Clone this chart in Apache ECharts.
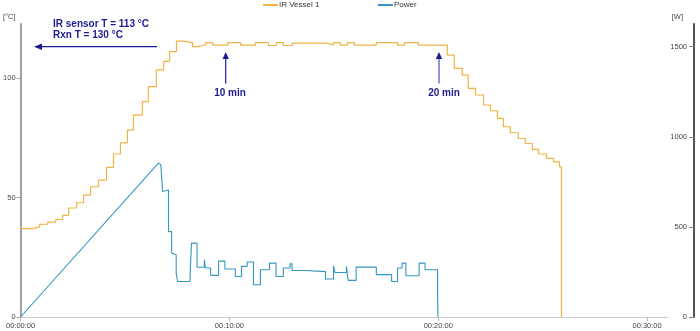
<!DOCTYPE html>
<html>
<head>
<meta charset="utf-8">
<script src="https://cdn.jsdelivr.net/npm/echarts@6/dist/echarts.min.js"></script>
<style>
html,body{margin:0;padding:0;background:#fff;}
#c{width:700px;height:331px;}
</style>
</head>
<body>
<div id="c"></div>
<script>
// time in seconds, temperature in °C (value held until next change)
const tempSteps = [
  [0,37],[34,37.7],[55,38.8],[78,39.7],[101,40.8],[121,42.5],[138,45.6],[161,47.8],
  [181,51],[201,54.5],[224,57.3],[247,62.6],[267,68.2],[287,72.9],[307,78.2],[324,84.5],
  [350,90.1],[367,96.4],[390,103.4],[411,107],[428,111],[448,115.4],[468,114.8],[494,113.1],
  [508,113.8],[531,114.8],[552,113.8],[595,114.8],[632,113.8],[675,114.8],[712,113.6],
  [735,114.8],[755,113.6],[781,114.6],[879,113.8],[899,114.8],[919,113.8],[939,114.8],
  [959,113.8],[1022,114.8],[1083,113.8],[1103,114.8],[1143,113.8],[1226,109.6],[1246,104],
  [1269,101.3],[1286,95.7],[1307,92.9],[1330,88.7],[1350,86.3],[1370,83.1],[1387,79.6],
  [1407,77.1],[1430,74.7],[1450,72.6],[1470,70.1],[1488,68.2],[1511,66.4],[1531,64.9],
  [1548,62.8],[1554,0]
];
// power ramp (linear) then step changes [s, W]
const powerRamp = [[0,0],[396,854],[403,845],[408,696]];
const powerSteps = [
  [411,705],[425,474],[434,355],[439,345],[447,244],[451,197],[487,235],[491,410],
  [507,276],[528,318],[531,272],[546,231],[569,310],[587,266],[617,225],[635,281],
  [651,305],[669,179],[689,262],[715,299],[734,225],[755,272],[774,295],[780,258],
  [819,252],[876,211],[899,284],[903,247],[936,281],[941,203],[964,277],[1022,235],
  [1066,197],[1083,272],[1096,299],[1107,229],[1145,299],[1162,262],[1198,133],[1199,0]
];
const xTicks = [0,600,1200,1800];
const tempTicks = [0,50,100];
const powerTicks = [0,500,1000,1500];
const seriesNames = ['IR Vessel 1','Power'];

const powerData = powerRamp.slice();
let prev = powerRamp[powerRamp.length-1][1];
powerSteps.forEach(p => { powerData.push([p[0], prev]); powerData.push([p[0], p[1]]); prev = p[1]; });

function hms(v){
  const h = Math.floor(v/3600), m = Math.floor((v%3600)/60), s = Math.round(v%60);
  const p = n => String(n).padStart(2,'0');
  return p(h)+':'+p(m)+':'+p(s);
}

const FONT = 'Liberation Sans, Arial, sans-serif';
const NAVY = '#1c1c8f';
const AX = 7.5;
const legendBase = {
  top:1, padding:0, itemWidth:15, itemHeight:2, icon:'rect',
  textStyle:{fontSize:8, color:'#333', padding:[0,0,0,-4]}
};
const chart = echarts.init(document.getElementById('c'), null, {renderer:'canvas'});
chart.setOption({
  animation:false,
  textStyle:{fontFamily:FONT},
  legend:[
    Object.assign({}, legendBase, {left:263, data:[seriesNames[0]]}),
    Object.assign({}, legendBase, {left:378, data:[seriesNames[1]]})
  ],
  grid:{left:20, right:32, top:24, bottom:14},
  xAxis:{
    type:'value', min:0, max:1860, interval:600,
    axisLine:{show:true, lineStyle:{color:'#cccccc', width:1}},
    axisTick:{show:true, length:4, lineStyle:{color:'#bbbbbb'}, customValues:xTicks},
    axisLabel:{customValues:xTicks, formatter:hms, fontSize:AX, color:'#444', margin:5},
    splitLine:{show:false}
  },
  yAxis:[
    {
      type:'value', min:0, max:122.6, position:'left',
      name:'[°C]', nameLocation:'end', nameGap:3,
      nameTextStyle:{fontSize:AX, color:'#444', align:'right', verticalAlign:'bottom', padding:[0,5,0,0]},
      axisLine:{show:true, lineStyle:{color:'#a0a0a0', width:2}},
      axisTick:{show:true, length:4, lineStyle:{color:'#a0a0a0'}, customValues:tempTicks},
      axisLabel:{customValues:tempTicks, fontSize:AX, color:'#444', margin:5},
      splitLine:{show:false}
    },
    {
      type:'value', min:0, max:1626, position:'right', offset:26,
      name:'[W]', nameLocation:'end', nameGap:3,
      nameTextStyle:{fontSize:AX, color:'#444', align:'right', verticalAlign:'bottom', padding:[0,11,0,0]},
      axisLine:{show:true, lineStyle:{color:'#555', width:2}},
      axisTick:{show:true, inside:true, length:5, lineStyle:{color:'#888'}, customValues:powerTicks},
      axisLabel:{inside:true, customValues:powerTicks, formatter:v => String(v), fontSize:AX, color:'#444', margin:7},
      splitLine:{show:false}
    }
  ],
  series:[
    {
      name:seriesNames[0], type:'line', yAxisIndex:0, step:'end', data:tempSteps,
      showSymbol:false, symbol:'none', color:'#f0b445', lineStyle:{width:1.2, color:'#f0b445'}
    },
    {
      name:seriesNames[1], type:'line', yAxisIndex:1, data:powerData,
      showSymbol:false, symbol:'none', color:'#3596bf', lineStyle:{width:1.1, color:'#3596bf'}
    }
  ],
  graphic:[
    {type:'text', x:53, y:24, style:{text:'IR sensor T = 113 °C', font:'bold 10px '+FONT, fill:NAVY, verticalAlign:'middle'}},
    {type:'text', x:53, y:35.5, style:{text:'Rxn T = 130 °C', font:'bold 10px '+FONT, fill:NAVY, verticalAlign:'middle'}},
    {type:'line', shape:{x1:41, y1:46.7, x2:157, y2:46.7}, style:{stroke:NAVY, lineWidth:1.2}},
    {type:'polygon', shape:{points:[[34,46.7],[42,43.5],[42,49.9]]}, style:{fill:NAVY}},
    {type:'line', shape:{x1:225.7, y1:58, x2:225.7, y2:83.5}, style:{stroke:NAVY, lineWidth:1.2}},
    {type:'polygon', shape:{points:[[225.7,52],[222.5,59],[228.9,59]]}, style:{fill:NAVY}},
    {type:'text', x:230, y:93.5, style:{text:'10 min', font:'bold 10px '+FONT, fill:NAVY, align:'center', verticalAlign:'middle'}},
    {type:'line', shape:{x1:439, y1:58, x2:439, y2:83.5}, style:{stroke:'#4a4ac0', lineWidth:1.2}},
    {type:'polygon', shape:{points:[[439,52],[435.8,59],[442.2,59]]}, style:{fill:NAVY}},
    {type:'text', x:444, y:93.5, style:{text:'20 min', font:'bold 10px '+FONT, fill:NAVY, align:'center', verticalAlign:'middle'}}
  ]
});
</script>
</body>
</html>
